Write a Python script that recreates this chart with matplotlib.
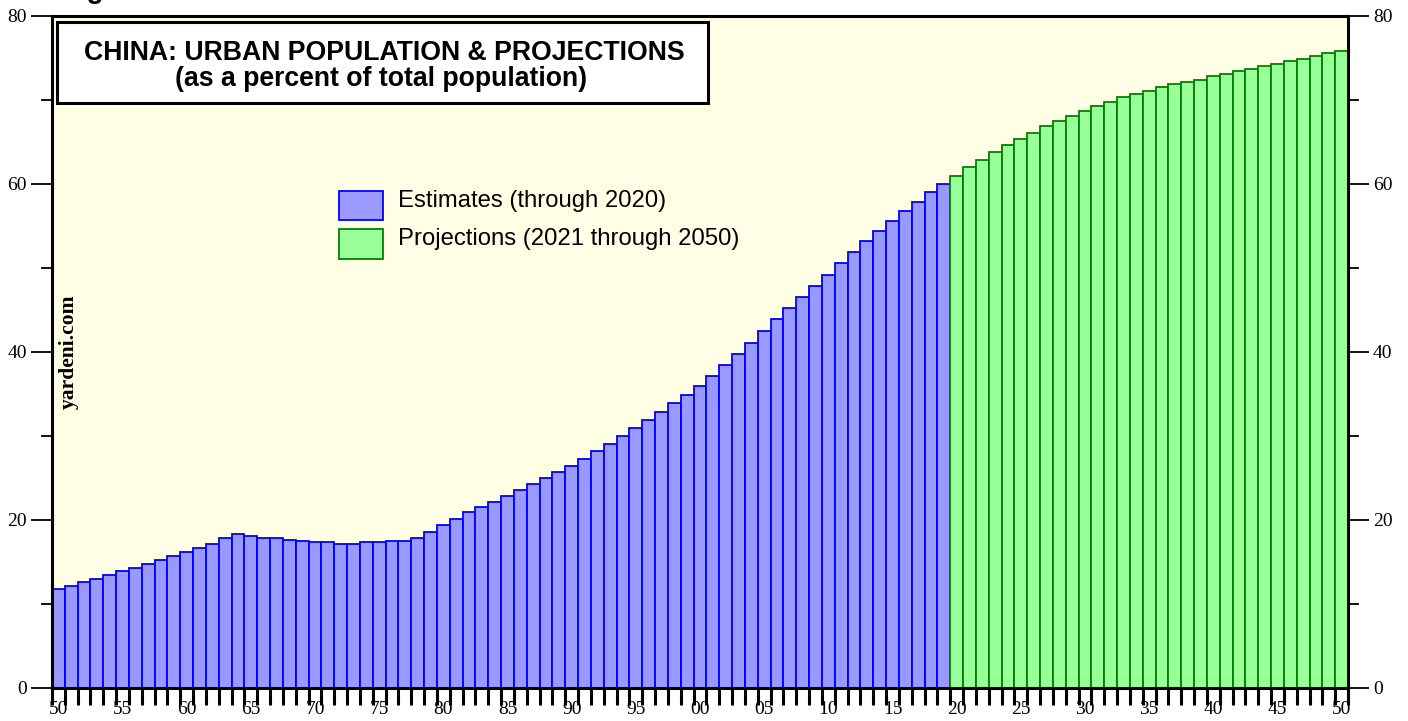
import matplotlib
matplotlib.use("Agg")
import matplotlib.pyplot as plt
from matplotlib.patches import Rectangle
import numpy as np

# ---------------- data ----------------
years = list(range(1950, 2051))
estimates = [
    11.8, 12.2, 12.6, 13.0, 13.4, 13.9, 14.3, 14.8, 15.2, 15.7,   # 1950-59
    16.2, 16.7, 17.2, 17.8, 18.3, 18.1, 17.9, 17.8, 17.65, 17.5,  # 1960-69
    17.4, 17.35, 17.2, 17.2, 17.35, 17.4, 17.5, 17.5, 17.9, 18.6, # 1970-79
    19.4, 20.1, 20.9, 21.5, 22.2, 22.9, 23.6, 24.3, 25.0, 25.7,   # 1980-89
    26.4, 27.3, 28.2, 29.1, 30.0, 31.0, 31.9, 32.9, 33.9, 34.9,   # 1990-99
    35.9, 37.1, 38.4, 39.8, 41.1, 42.5, 43.9, 45.2, 46.5, 47.9,   # 2000-09
    49.2, 50.6, 51.9, 53.2, 54.4, 55.6, 56.8, 57.9, 59.0, 60.0,   # 2010-19
]
projections = [
    61.0, 62.0, 62.9, 63.8, 64.6, 65.4, 66.1, 66.9, 67.5, 68.1,   # 2020-29
    68.7, 69.3, 69.8, 70.3, 70.7, 71.1, 71.5, 71.9, 72.1, 72.4,   # 2030-39
    72.8, 73.1, 73.5, 73.7, 74.0, 74.3, 74.6, 74.9, 75.2, 75.6,   # 2040-49
    75.8,                                                         # 2050
]
est_years = years[:len(estimates)]
proj_years = years[len(estimates):]

title_line1 = "CHINA: URBAN POPULATION & PROJECTIONS"
title_line2 = "(as a percent of total population)"
legend_labels = ["Estimates (through 2020)", "Projections (2021 through 2050)"]
y_ticks = [0, 20, 40, 60, 80]

# ---------------- figure ----------------
W, H = 1408, 721
fig = plt.figure(figsize=(W / 100, H / 100), dpi=100)
fig.patch.set_facecolor("white")

def fx(px):
    return px / W

def fy(py):
    return 1 - py / H

L, R, T, B = 52, 1348, 16, 688
ax = fig.add_axes([fx(L), fy(B), fx(R) - fx(L), fy(T) - fy(B)])
ax.set_facecolor("#FFFFE6")

blue_face, blue_edge = "#9999FF", "#0000FF"
green_face, green_edge = "#99FF99", "#008000"

ax.bar(est_years, estimates, width=1.0, color=blue_face, edgecolor=blue_edge,
       linewidth=1.3, zorder=2)
ax.bar(proj_years, projections, width=1.0, color=green_face, edgecolor=green_edge,
       linewidth=1.3, zorder=2)

ax.set_xlim(years[0] - 0.5, years[-1] + 0.5)
ax.set_ylim(0, 80)

for s in ["left", "right", "top", "bottom"]:
    ax.spines[s].set_color("black")
    ax.spines[s].set_linewidth(2.2)
    ax.spines[s].set_zorder(5)

serif = "Liberation Serif"

# x axis: ticks at bar edges, labels at bar centres every 5 years
edge_ticks = [y - 0.5 for y in years] + [years[-1] + 0.5]
ax.set_xticks(edge_ticks)
ax.set_xticklabels([])
ax.tick_params(axis="x", which="major", direction="out", length=12, width=2.2,
               color="black")
lab_years = [y for y in years if y % 5 == 0]
ax.set_xticks(lab_years, minor=True)
ax.set_xticklabels(["%02d" % (y % 100) for y in lab_years], minor=True,
                   fontfamily=serif, fontsize=14)
ax.tick_params(axis="x", which="minor", length=0, pad=9.5)

# y axis: both sides
ax.set_yticks(y_ticks)
ax.set_yticklabels([str(v) for v in y_ticks], fontfamily=serif, fontsize=14)
ax.set_yticks([10, 30, 50, 70], minor=True)
ax.tick_params(axis="y", which="major", direction="out", length=15, width=1.3,
               left=True, right=True, labelleft=True, labelright=True, pad=3)
ax.tick_params(axis="y", which="minor", direction="out", length=8, width=1.3,
               left=True, right=True)

# title box
fig.add_artist(Rectangle((fx(57), fy(103)), fx(708) - fx(57), fy(22) - fy(103),
                         transform=fig.transFigure, facecolor="white",
                         edgecolor="black", linewidth=2.2, zorder=10))
fig.text(fx(384), fy(52.5), title_line1, ha="center", va="center",
         fontfamily="Liberation Sans", fontweight="bold", fontsize=19.2, zorder=11)
fig.text(fx(381), fy(79), title_line2, ha="center", va="center",
         fontfamily="Liberation Sans", fontweight="bold", fontsize=19.2, zorder=11)

# legend
for (top, bot, face, edge, lab, cy) in [
    (191, 220, blue_face, blue_edge, legend_labels[0], 201),
    (229, 259, green_face, green_edge, legend_labels[1], 239),
]:
    fig.add_artist(Rectangle((fx(339), fy(bot)), fx(383) - fx(339), fy(top) - fy(bot),
                             transform=fig.transFigure, facecolor=face,
                             edgecolor=edge, linewidth=1.3, zorder=10))
    fig.text(fx(398), fy(cy), lab, ha="left", va="center",
             fontfamily="Liberation Sans", fontsize=17.2, zorder=11)

# watermark
fig.text(fx(69), fy(352), "yardeni.com", rotation=90, ha="center", va="center",
         fontfamily=serif, fontweight="bold", fontsize=15.5)

# clipped figure caption at very top
fig.text(fx(62), 1 + 1.5 / H, "Figure 3.", ha="left", va="baseline",
         fontfamily="Liberation Sans", fontweight="bold", fontsize=20)

fig.savefig("out.png", dpi=100)
